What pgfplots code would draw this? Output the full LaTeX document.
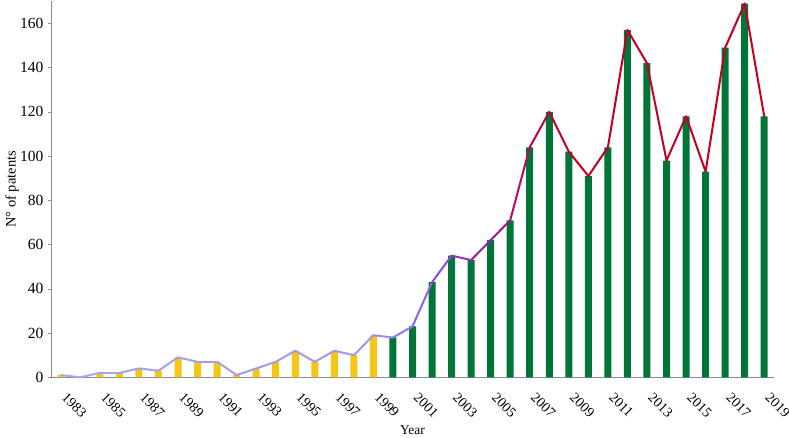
\documentclass[border=0pt]{standalone}
\usepackage{pgfplots}
\pgfplotsset{compat=1.18}
\usepackage{fontspec}
\setmainfont{Liberation Serif}
\definecolor{baryellow}{RGB}{245,198,22}
\definecolor{bargreen}{RGB}{0,117,56}
\definecolor{axgray}{RGB}{140,140,140}
\begin{document}
\begin{tikzpicture}
\useasboundingbox (0,0) rectangle (789pt,438pt);
\begin{axis}[
  at={(51pt,60.7pt)}, anchor=south west,
  scale only axis, width=723pt, height=376pt,
  xmin=1982.5, xmax=2019.5, ymin=0, ymax=170,
  axis x line=bottom, axis y line=left,
  axis line style={-, draw=axgray, line width=0.8pt},
  xtick={1983,1985,...,2019},
  ytick={0,20,...,160},
  x tick style={draw=none},
  y tick style={draw=axgray, line width=0.6pt},
  tick align=outside, major tick length=3pt,
  /pgf/number format/set thousands separator={},
  /pgf/number format/assume math mode=true,
  xticklabel style={font=\fontsize{14}{16}\selectfont, text=black, xshift=7pt, yshift=-11pt, rotate=-45, anchor=north west, inner sep=0pt},
  yticklabel style={font=\fontsize{15.5}{17}\selectfont, text=black, xshift=-1pt},
  ylabel={N° of patents},
  ylabel style={font=\fontsize{14.5}{16}\selectfont, at={(axis description cs:-0.0539,0.5)}, anchor=center},
  xlabel={Year},
  xlabel style={font=\fontsize{13.5}{16}\selectfont, at={(axis description cs:0.5,0)}, anchor=base, yshift=-57.5pt},
  colormap={linecm}{rgb255(0cm)=(168,165,242); rgb255(16cm)=(160,150,238); rgb255(18cm)=(145,110,235); rgb255(19cm)=(140,85,228); rgb255(21cm)=(150,40,185); rgb255(23cm)=(160,20,130); rgb255(24cm)=(182,10,70); rgb255(26cm)=(192,0,40); rgb255(36cm)=(195,0,35)},
  point meta min=1983, point meta max=2019,
  clip=false,
]
\addplot[ybar, bar width=7pt, bar shift=0pt, fill=baryellow, draw=none] coordinates {
(1983,1) (1984,0) (1985,2) (1986,2) (1987,4) (1988,3) (1989,9) (1990,7) (1991,7)
(1992,1) (1993,4) (1994,7) (1995,12) (1996,7) (1997,12) (1998,10) (1999,19)};
\addplot[ybar, bar width=7pt, bar shift=0pt, fill=bargreen, draw=none] coordinates {
(2000,18) (2001,23) (2002,43) (2003,55) (2004,53) (2005,62) (2006,71) (2007,104)
(2008,120) (2009,102) (2010,91) (2011,104) (2012,157) (2013,142) (2014,98)
(2015,118) (2016,93) (2017,149) (2018,169) (2019,118)};
\addplot[mesh, point meta=x, line width=2pt, line join=round, line cap=round, no markers] coordinates {
(1983,1) (1984,0) (1985,2) (1986,2) (1987,4) (1988,3) (1989,9) (1990,7) (1991,7)
(1992,1) (1993,4) (1994,7) (1995,12) (1996,7) (1997,12) (1998,10) (1999,19)
(2000,18) (2001,23) (2002,43) (2003,55) (2004,53) (2005,62) (2006,71) (2007,104)
(2008,120) (2009,102) (2010,91) (2011,104) (2012,157) (2013,142) (2014,98)
(2015,118) (2016,93) (2017,149) (2018,169) (2019,118)};
\end{axis}
\end{tikzpicture}
\end{document}
